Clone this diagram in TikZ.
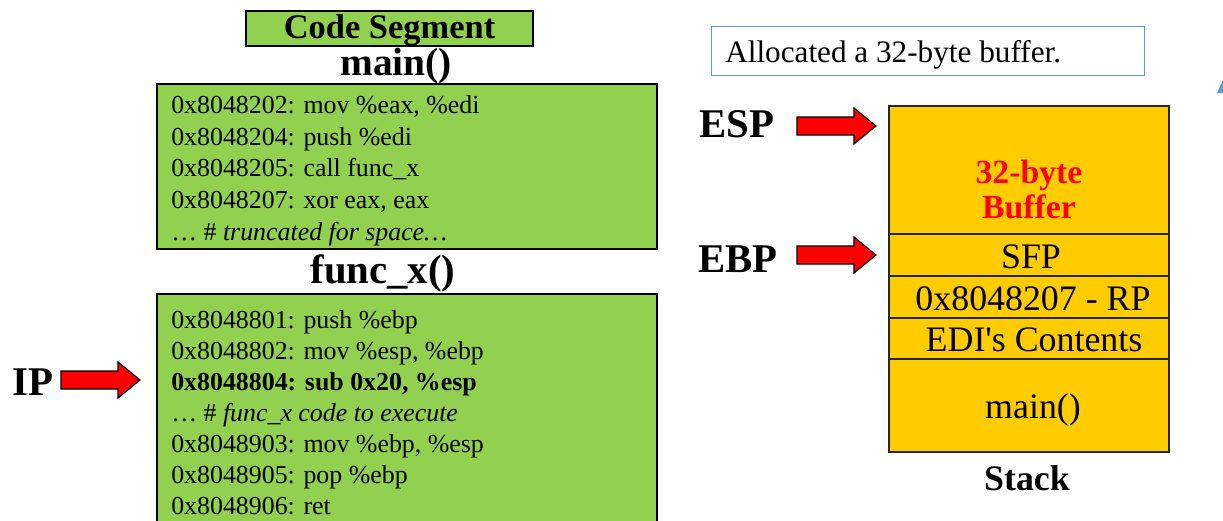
\documentclass[tikz,border=0pt]{standalone}
\usepackage{fontspec}
\setmainfont{Liberation Serif}
\begin{document}
\begin{tikzpicture}[x=0.025cm, y=-0.025cm,
  codebox/.style={fill=codegreen, draw=black, line width=1.3pt},
  codeline/.style={anchor=base west, inner sep=0pt, font=\fontsize{18.4}{22}\selectfont},
  title/.style={anchor=base, inner sep=0pt, font=\fontsize{29}{32}\selectfont\bfseries},
  cell/.style={fill=stackgold, draw=black!85, line width=1.2pt},
  celltext/.style={anchor=base, inner sep=0pt, font=\fontsize{25.5}{28}\selectfont},
  redarrow/.pic={\filldraw[fill=red, draw=black, line width=0.8pt]
    (0,-9) -- (57,-9) -- (57,-18) -- (79,0) -- (57,18) -- (57,9) -- (0,9) -- cycle;}]
\definecolor{codegreen}{HTML}{92D050}
\definecolor{stackgold}{HTML}{FFCC00}
\definecolor{noteblue}{HTML}{5B9BD5}
\useasboundingbox (0,0) rectangle (1223,520);

% code segment header
\draw[codebox] (246,11) rectangle (533,46);
\node[anchor=base, inner sep=0pt, font=\fontsize{24.5}{26}\selectfont\bfseries] (seg) at (389.5,38.5) {Code Segment};

% main()
\node[title, font=\fontsize{28}{30}\selectfont\bfseries] (maint) at (396,75) {main()};
\draw[codebox] (157,84) rectangle (657,249);
\foreach \t [count=\i] in {
  {0x8048202: mov \%eax, \%edi},
  {0x8048204: push \%edi},
  {0x8048205: call func\_x},
  {0x8048207: xor eax, eax},
  {… \# \textit{truncated for space…}}}
  \node[codeline] (m\i) at (171,{113.5+31.7*(\i-1)}) {\t};

% func_x()
\node[title] (funct) at (383,283) {func\_x()};
\draw[codebox] (157,294) rectangle (657,530);
\foreach \t [count=\i] in {
  {0x8048801: push \%ebp},
  {0x8048802: mov \%esp, \%ebp},
  {\textbf{0x8048804: sub 0x20, \%esp}},
  {… \# \textit{func\_x code to execute}},
  {0x8048903: mov \%ebp, \%esp},
  {0x8048905: pop \%ebp},
  {0x8048906: ret}}
  \node[codeline] (f\i) at (171,{328+31*(\i-1)}) {\t};

% instruction pointer
\node[title] (ip) at (33,395) {IP};
\pic at (61,380) {redarrow};

% note
\node[draw=noteblue, line width=0.9pt, anchor=north west, minimum width=433*0.025cm,
  minimum height=49*0.025cm, inner sep=0pt] (note) at (711,26) {};
\node[anchor=base west, inner sep=0pt, font=\fontsize{22.2}{24}\selectfont] (notet) at (725,62)
  {Allocated a 32-byte buffer.};

% stack
\draw[cell] (889,106) rectangle (1169,234);
\draw[cell] (889,234) rectangle (1169,276);
\draw[cell] (889,276) rectangle (1169,318);
\draw[cell] (889,318) rectangle (1169,359);
\draw[cell] (889,359) rectangle (1169,452);
\node[anchor=base, inner sep=0pt, align=center, text=red,
  font=\fontsize{24}{24.8}\selectfont\bfseries] (buf) at (1029,218) {32-byte\\Buffer};
\node[celltext] (sfp) at (1031,268) {SFP};
\node[celltext] (rp) at (1033,310) {0x8048207 - RP};
\node[celltext] (edi) at (1034,351) {EDI\textquotesingle s Contents};
\node[celltext] (mainc) at (1033,418) {main()};
\node[anchor=base, inner sep=0pt, font=\fontsize{25.5}{28}\selectfont\bfseries] (stk) at (1027,490) {Stack};

% stack pointers
\node[title] (esp) at (737,137) {ESP};
\pic at (797,126) {redarrow};
\node[title] (ebp) at (738,272) {EBP};
\pic at (797,255) {redarrow};

% sliver of a shape at the right edge
\fill[noteblue] (1217,93) -- (1223,80) -- (1223,93) -- cycle;
\end{tikzpicture}
\end{document}
